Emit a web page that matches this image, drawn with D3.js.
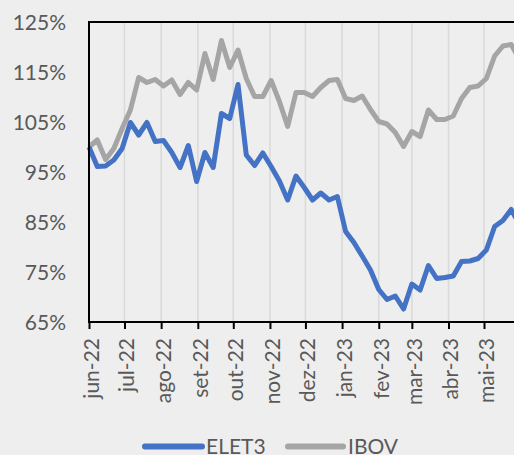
<!DOCTYPE html>
<html>
<head>
<meta charset="utf-8">
<script src="https://cdn.jsdelivr.net/npm/d3@7"></script>
<style>
  html, body { margin: 0; padding: 0; background: #eeeeee; }
  svg { display: block; }
  text { font-family: Lato, "Liberation Sans", sans-serif; fill: #595959; }
</style>
</head>
<body>
<svg id="chart" width="514" height="455"></svg>
<script>
const dates = ["2022-06-01","2022-06-08","2022-06-15","2022-06-22","2022-06-29","2022-07-06","2022-07-13","2022-07-20","2022-07-27",
  "2022-08-03","2022-08-10","2022-08-17","2022-08-24","2022-08-31","2022-09-07","2022-09-14","2022-09-21","2022-09-28",
  "2022-10-05","2022-10-12","2022-10-19","2022-10-26","2022-11-02","2022-11-09","2022-11-16","2022-11-23","2022-11-30",
  "2022-12-07","2022-12-14","2022-12-21","2022-12-28","2023-01-04","2023-01-11","2023-01-18","2023-01-25","2023-02-01",
  "2023-02-08","2023-02-15","2023-02-22","2023-03-01","2023-03-08","2023-03-15","2023-03-22","2023-03-29","2023-04-05",
  "2023-04-12","2023-04-19","2023-04-26","2023-05-03","2023-05-10","2023-05-17","2023-05-24","2023-05-31"];

const elet3 = [100,96.1,96.2,97.4,99.7,104.9,102.4,104.9,101.1,101.3,98.9,95.9,100.3,93.1,98.9,95.9,106.7,105.7,112.5,98.4,
  96.3,98.8,96.1,93.2,89.4,94.2,91.9,89.4,90.8,89.4,90.1,83.1,80.9,78.2,75.4,71.5,69.5,70.2,67.6,72.6,71.4,76.3,73.7,73.9,
  74.2,77.1,77.2,77.7,79.4,84.1,85.3,87.5,84.5];

const ibov = [100,101.4,97.5,99.7,103.7,107.4,113.9,112.9,113.5,112.2,113.4,110.5,112.9,111.4,118.7,113.5,121.3,115.9,119.4,
  113.7,110.1,110.1,113.3,109.1,104.1,110.9,110.9,110.1,111.9,113.3,113.5,109.7,109.3,110.2,107.5,105.1,104.6,102.9,100.1,
  103.1,102.1,107.4,105.5,105.5,106.2,109.7,111.9,112.2,113.7,118.2,120.2,120.5,117.5];

const monthTicks = ["2022-06-01","2022-07-01","2022-08-01","2022-09-01","2022-10-01","2022-11-01","2022-12-01",
  "2023-01-01","2023-02-01","2023-03-01","2023-04-01","2023-05-01"];
const monthLabels = ["jun-22","jul-22","ago-22","set-22","out-22","nov-22","dez-22","jan-23","fev-23","mar-23","abr-23","mai-23"];
const yTicks = [65,75,85,95,105,115,125];

const seriesNames = ["ELET3","IBOV"];
const seriesColors = ["#4472C4","#A5A5A5"];

(function(){
const parse = d3.utcParse("%Y-%m-%d");
const svg = d3.select("#chart");

const mLeft = 89, mTop = 22, mBottom = 322, mRight = 540;
const x = d3.scaleUtc().domain([parse("2022-06-01"), parse("2023-05-01")]).range([mLeft, 484]);
const y = d3.scaleLinear().domain([65,125]).range([mBottom, mTop]);

const tickDates = monthTicks.map(parse);

// gridlines
svg.append("g").selectAll("line").data(tickDates.slice(1)).join("line")
  .attr("x1", d => x(d)).attr("x2", d => x(d))
  .attr("y1", mTop).attr("y2", mBottom)
  .attr("stroke", "#d9d9d9").attr("stroke-width", 1.5);

// lines
const line = d3.line().x((d,i) => x(parse(dates[i]))).y(d => y(d));
svg.append("path").datum(ibov).attr("d", line)
  .attr("fill","none").attr("stroke", seriesColors[1]).attr("stroke-width",5).attr("stroke-linejoin","round");
svg.append("path").datum(elet3).attr("d", line)
  .attr("fill","none").attr("stroke", seriesColors[0]).attr("stroke-width",5).attr("stroke-linejoin","round");

// border (top)
svg.append("line").attr("x1", mLeft).attr("x2", mRight).attr("y1", mTop).attr("y2", mTop)
  .attr("stroke","#000").attr("stroke-width",2);

// y axis
const yAxis = svg.append("g").attr("transform", `translate(${mLeft},0)`)
  .call(d3.axisLeft(y).tickValues(yTicks).tickSize(0).tickPadding(23).tickFormat(d => d + "%"));
yAxis.select(".domain").attr("stroke","#000").attr("stroke-width",2).attr("d", `M0,${mTop-1}V${mBottom+1}`);
yAxis.selectAll("text").style("font-size","21px").attr("fill","#595959").attr("dy","0.36em");

// x axis
const xAxis = svg.append("g").attr("transform", `translate(0,${mBottom})`)
  .call(d3.axisBottom(x).tickValues(tickDates).tickSize(7).tickFormat((d,i) => monthLabels[i]));
xAxis.select(".domain").attr("stroke","#000").attr("stroke-width",2).attr("d", `M${mLeft-1},0H${mRight}`);
xAxis.selectAll(".tick line").attr("stroke","#000").attr("stroke-width",2);
xAxis.selectAll("text").style("font-size","21px").attr("fill","#595959")
  .attr("transform","rotate(-90)").attr("text-anchor","end")
  .attr("x",-16).attr("y",0).attr("dy","0.45em");

// legend
const legend = [
  {x1:145, x2:202, tx:206},
  {x1:288, x2:343, tx:348}
];
legend.forEach((l,i) => {
  svg.append("line").attr("x1",l.x1).attr("x2",l.x2).attr("y1",446.5).attr("y2",446.5)
    .attr("stroke", seriesColors[i]).attr("stroke-width",6).attr("stroke-linecap","round");
  svg.append("text").attr("x",l.tx).attr("y",454).style("font-size","21px").text(seriesNames[i]);
});
})();
</script>
</body>
</html>
